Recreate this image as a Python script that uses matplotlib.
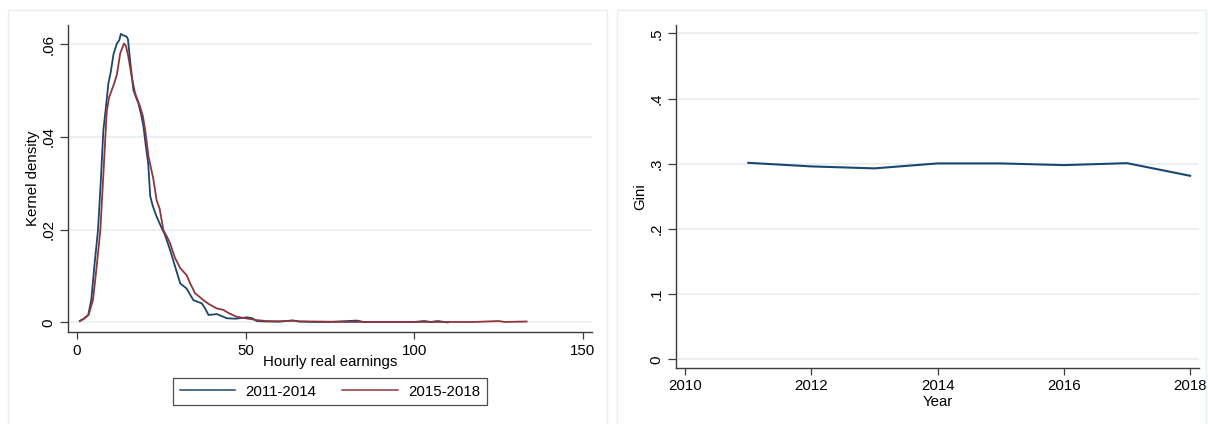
import matplotlib
matplotlib.use("Agg")
import matplotlib.pyplot as plt
from matplotlib.patches import Rectangle
from matplotlib.lines import Line2D

plt.rcParams['font.family'] = ['Liberation Sans', 'DejaVu Sans']

# Kernel density of hourly real earnings, 2011-2014
earn_a = [0.8, 2.0, 3.3, 4.2, 5.2, 6.2, 7.0, 7.8, 8.5, 9.3, 10.0, 10.8, 11.8, 12.5, 13.0,
          13.6, 14.7, 15.1, 15.7, 16.7, 17.5, 18.2, 19.0, 19.7, 20.4, 21.1, 21.7, 22.5, 23.6,
          25.0, 26.0, 27.6, 29.1, 30.6, 32.5, 34.5, 37.0, 38.0, 39.0, 41.5, 44.4, 47.0, 50.4,
          52.0, 53.3, 56.0, 60.0, 64.0, 66.0, 70.0, 75.0, 83.0, 85.0, 90.0, 100.0, 103.0,
          105.0, 107.0, 110.0]
dens_a = [0.0003, 0.0008, 0.0016, 0.0048, 0.0127, 0.0199, 0.0300, 0.0415, 0.0460, 0.0516,
          0.0540, 0.0578, 0.0601, 0.0608, 0.0622, 0.0619, 0.0616, 0.0610, 0.0566, 0.0501,
          0.0485, 0.0472, 0.0448, 0.0422, 0.0380, 0.0343, 0.0272, 0.0250, 0.0228, 0.0205,
          0.0190, 0.0156, 0.0120, 0.0084, 0.0073, 0.0048, 0.0041, 0.0030, 0.0016, 0.0018,
          0.0009, 0.0008, 0.0011, 0.0009, 0.0003, 0.0002, 0.0002, 0.0004, 0.0002, 0.0001,
          0.0001, 0.0004, 0.0001, 0.0001, 0.0001, 0.0003, 0.0001, 0.0003, 0.0000]

# Kernel density of hourly real earnings, 2015-2018
earn_b = [0.8, 2.0, 3.4, 4.7, 5.7, 6.9, 7.8, 8.5, 8.8, 9.5, 10.3, 11.0, 11.8, 12.8, 13.9,
          14.5, 15.2, 16.2, 17.2, 18.7, 19.5, 20.2, 21.2, 22.6, 23.6, 24.5, 25.6, 27.0, 27.6,
          29.0, 30.6, 32.5, 33.5, 35.0, 37.5, 39.0, 41.5, 43.4, 45.0, 47.4, 50.0, 53.3, 56.0,
          60.0, 64.0, 66.0, 70.0, 80.0, 90.0, 100.0, 110.0, 118.0, 125.0, 127.0, 133.4]
dens_b = [0.0003, 0.0008, 0.0016, 0.0048, 0.0113, 0.0199, 0.0320, 0.0415, 0.0455, 0.0485,
          0.0501, 0.0515, 0.0534, 0.0580, 0.0601, 0.0596, 0.0573, 0.0530, 0.0494, 0.0465,
          0.0445, 0.0415, 0.0357, 0.0310, 0.0263, 0.0245, 0.0199, 0.0180, 0.0170, 0.0140,
          0.0117, 0.0102, 0.0085, 0.0063, 0.0048, 0.0040, 0.0030, 0.0027, 0.0020, 0.0012,
          0.0009, 0.0005, 0.0003, 0.0002, 0.0004, 0.0002, 0.0002, 0.0001, 0.0001, 0.0001,
          0.0001, 0.0001, 0.0003, 0.0001, 0.0002]

period_labels = ["2011-2014", "2015-2018"]

# Gini coefficient by year
years = [2011, 2012, 2013, 2014, 2015, 2016, 2017, 2018]
gini = [0.3015, 0.296, 0.293, 0.3006, 0.3006, 0.298, 0.301, 0.2816]

density_ticks = [0, 0.02, 0.04, 0.06]
density_tick_labels = ["0", ".02", ".04", ".06"]
earn_ticks = [0, 50, 100, 150]
gini_ticks = [0, 0.1, 0.2, 0.3, 0.4, 0.5]
gini_tick_labels = ["0", ".1", ".2", ".3", ".4", ".5"]
year_ticks = [2010, 2012, 2014, 2016, 2018]

NAVY = "#1A476F"
MAROON = "#90353B"
GRID = "#E6EEF1"
AXIS = "#3C3C3C"
FS = 10.8

W, H = 1208, 424
fig = plt.figure(figsize=(W / 100, H / 100), dpi=100)
fig.patch.set_facecolor("white")

# light panel frames
fig.patches.append(Rectangle((8 / W, -0.01), (607 - 8) / W, (H - 10) / H + 0.01,
                             transform=fig.transFigure, fill=False,
                             edgecolor="#E9EEF0", lw=1.0))
fig.patches.append(Rectangle((617 / W, -0.01), (1206 - 617) / W, (H - 10) / H + 0.01,
                             transform=fig.transFigure, fill=False,
                             edgecolor="#E9EEF0", lw=1.0))


def style_axes(ax):
    for side in ("top", "right"):
        ax.spines[side].set_visible(False)
    for side in ("left", "bottom"):
        ax.spines[side].set_color(AXIS)
        ax.spines[side].set_linewidth(1.0)
    ax.tick_params(axis="y", direction="out", length=6, width=0.9, color=AXIS,
                   pad=3, labelsize=FS, labelrotation=90)
    ax.tick_params(axis="x", direction="out", length=5, width=0.9, color=AXIS,
                   pad=4, labelsize=FS)
    for lab in ax.get_yticklabels():
        lab.set_va("center")
    ax.grid(axis="y", color=GRID, lw=1.2)
    ax.set_axisbelow(True)


# ---- left panel: kernel densities ----
ax1 = fig.add_axes([68 / W, (H - 331.7) / H, (592 - 68) / W, (331.7 - 25) / H])
ax1.plot(earn_a, dens_a, color=NAVY, lw=1.3, label=period_labels[0])
ax1.plot(earn_b, dens_b, color=MAROON, lw=1.3, label=period_labels[1])
ax1.set_xlim(-2.7, 152.8)
ax1.set_ylim(-0.002, 0.0641)
ax1.set_xticks(earn_ticks)
ax1.set_yticks(density_ticks)
ax1.set_yticklabels(density_tick_labels)
style_axes(ax1)
ax1.set_ylabel("Kernel density", fontsize=FS)
ax1.set_xlabel("Hourly real earnings", fontsize=FS)
ax1.yaxis.set_label_coords((33 - 68) / (592 - 68), 0.5)
ax1.xaxis.set_label_coords(0.5, (331.7 - 362) / (331.7 - 25))
ax1.xaxis.label.set_va("center")
ax1.yaxis.label.set_va("center")

handles = [Line2D([], [], color=NAVY, lw=1.1), Line2D([], [], color=MAROON, lw=1.1)]
leg = fig.legend(handles, period_labels, loc="center", ncol=2,
                 bbox_to_anchor=(330 / W, (H - 391.5) / H), fontsize=FS,
                 frameon=True, fancybox=False, edgecolor="#222222",
                 handlelength=3.7, handletextpad=0.7, columnspacing=1.7,
                 borderpad=0.45)
leg.get_frame().set_linewidth(0.9)

# ---- right panel: Gini ----
ax2 = fig.add_axes([675.7 / W, (H - 368.3) / H, (1199 - 675.7) / W, (368.3 - 25) / H])
ax2.plot(years, gini, color=NAVY, lw=1.5)
ax2.set_xlim(2009.85, 2018.14)
ax2.set_ylim(-0.0138, 0.513)
ax2.set_xticks(year_ticks)
ax2.set_yticks(gini_ticks)
ax2.set_yticklabels(gini_tick_labels)
style_axes(ax2)
ax2.tick_params(axis="x", pad=3)
ax2.set_ylabel("Gini", fontsize=FS)
ax2.set_xlabel("Year", fontsize=FS)
ax2.yaxis.set_label_coords((640 - 675.7) / (1199 - 675.7), 0.5)
ax2.xaxis.set_label_coords(0.5, (368.3 - 402) / (368.3 - 25))
ax2.xaxis.label.set_va("center")
ax2.yaxis.label.set_va("center")

fig.savefig("out.png", dpi=100, facecolor="white")
